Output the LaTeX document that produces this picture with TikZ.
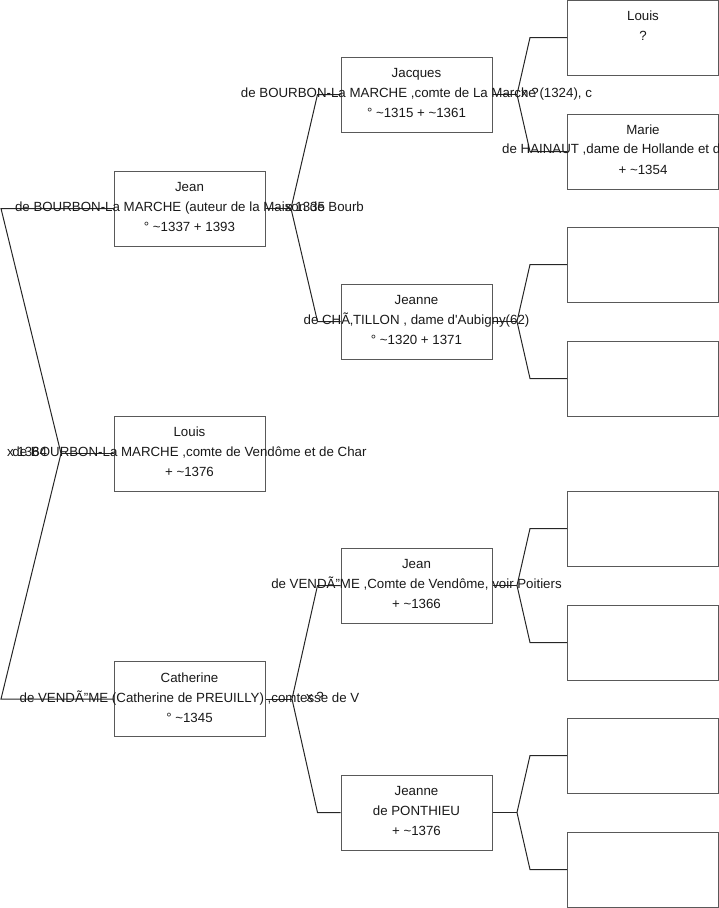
\documentclass[tikz,border=0pt]{standalone}
\usepackage{fontspec}
\setmainfont{Liberation Sans}[Ligatures=TeXOff]
\usepackage{tikz}
\usetikzlibrary{positioning,calc}

\tikzset{
  pbox/.style={draw=black!65,fill=white,line width=1pt,minimum width=151pt,minimum height=75pt,inner sep=0pt},
  ptext/.style={align=center,font=\fontsize{13.3}{20}\selectfont,text=black!90,inner sep=0pt,yshift=1.5pt},
  mlabel/.style={font=\fontsize{13.3}{16}\selectfont,text=black!90,inner sep=0pt},
  link/.style={draw=black!85,line width=1pt}
}
\newcommand{\tl}{\textasciitilde}

\begin{document}
\begin{tikzpicture}[x=1pt,y=-1pt]
\useasboundingbox (0,0) rectangle (719,908);

% boxes
\node[pbox] (jean) at (189.5,208.5) {};
\node[pbox] (louis) at (189.5,453.5) {};
\node[pbox] (cath) at (189.5,699) {};
\node[pbox] (jacq) at (416.5,94.5) {};
\node[pbox] (jeanne) at (416.5,321.5) {};
\node[pbox] (jeanv) at (416.5,585.5) {};
\node[pbox] (jeannep) at (416.5,812.5) {};
\foreach \n/\y in {louisb/37.5,marie/151.5,g3/264.5,g4/378.5,g5/528.5,g6/642.5,g7/755.5,g8/869.5}{
  \node[pbox] (\n) at (643,\y) {};
}

% knees and junctions
\coordinate (r0) at (61,453.5);
\coordinate (j1) at (291,208.5);
\coordinate (j2) at (292,699);
\coordinate (j3) at (517,94.5);
\coordinate (j4) at (517,321.5);
\coordinate (j5) at (517,585.5);
\coordinate (j6) at (517,812.5);

\draw[link] (louis.west) -- (r0);
\draw[link] (r0) -- (1,208.5) -- (jean.west);
\draw[link] (r0) -- (1,699) -- (cath.west);

\draw[link] (jean.east) -- (j1);
\draw[link] (j1) -- ([xshift=-23]jacq.west) -- (jacq.west);
\draw[link] (j1) -- ([xshift=-23]jeanne.west) -- (jeanne.west);
\draw[link] (cath.east) -- (j2);
\draw[link] (j2) -- ([xshift=-23]jeanv.west) -- (jeanv.west);
\draw[link] (j2) -- ([xshift=-23]jeannep.west) -- (jeannep.west);

\draw[link] (jacq.east) -- (j3);
\draw[link] (j3) -- ([xshift=-37]louisb.west) -- (louisb.west);
\draw[link] (j3) -- ([xshift=-37]marie.west) -- (marie.west);
\draw[link] (jeanne.east) -- (j4);
\draw[link] (j4) -- ([xshift=-37]g3.west) -- (g3.west);
\draw[link] (j4) -- ([xshift=-37]g4.west) -- (g4.west);
\draw[link] (jeanv.east) -- (j5);
\draw[link] (j5) -- ([xshift=-37]g5.west) -- (g5.west);
\draw[link] (j5) -- ([xshift=-37]g6.west) -- (g6.west);
\draw[link] (jeannep.east) -- (j6);
\draw[link] (j6) -- ([xshift=-37]g7.west) -- (g7.west);
\draw[link] (j6) -- ([xshift=-37]g8.west) -- (g8.west);

% texts
\node[ptext] (jean-t) at (jean) {Jean\\de BOURBON-La MARCHE (auteur de la Maison de Bourb\\° \tl1337 + 1393};
\node[ptext] (louis-t) at (louis) {Louis\\de BOURBON-La MARCHE ,comte de Vendôme et de Char\\+ \tl1376};
\node[ptext] (cath-t) at (cath) {Catherine\\de VENDÃ”ME (Catherine de PREUILLY) ,comtesse de V\\° \tl1345};
\node[ptext] (jacq-t) at (jacq) {Jacques\\de BOURBON-La MARCHE ,comte de La Marche (1324), c\\° \tl1315 + \tl1361};
\node[ptext] (jeanne-t) at (jeanne) {Jeanne\\de CHÃ‚TILLON , dame d'Aubigny(62)\\° \tl1320 + 1371};
\node[ptext] (jeanv-t) at (jeanv) {Jean\\de VENDÃ”ME ,Comte de Vendôme, voir Poitiers\\+ \tl1366};
\node[ptext] (jeannep-t) at (jeannep) {Jeanne\\de PONTHIEU\\+ \tl1376};
\node[ptext] (louisb-t) at (louisb) {Louis\\?\\\mbox{}};
\node[ptext] (marie-t) at (marie) {Marie\\\mbox{}\\+ \tl1354};
\node[mlabel,anchor=west] (marie-t2) at (502,150) {de HAINAUT ,dame de Hollande et d};

% marriages
\node[mlabel] (m0) at (27,451.5) {x 1364};
\node[mlabel] (m1) at (305,206.5) {x 1335};
\node[mlabel] (m2) at (315,697) {x ?};
\node[mlabel] (m3) at (530,92.5) {x ?};
\end{tikzpicture}
\end{document}
